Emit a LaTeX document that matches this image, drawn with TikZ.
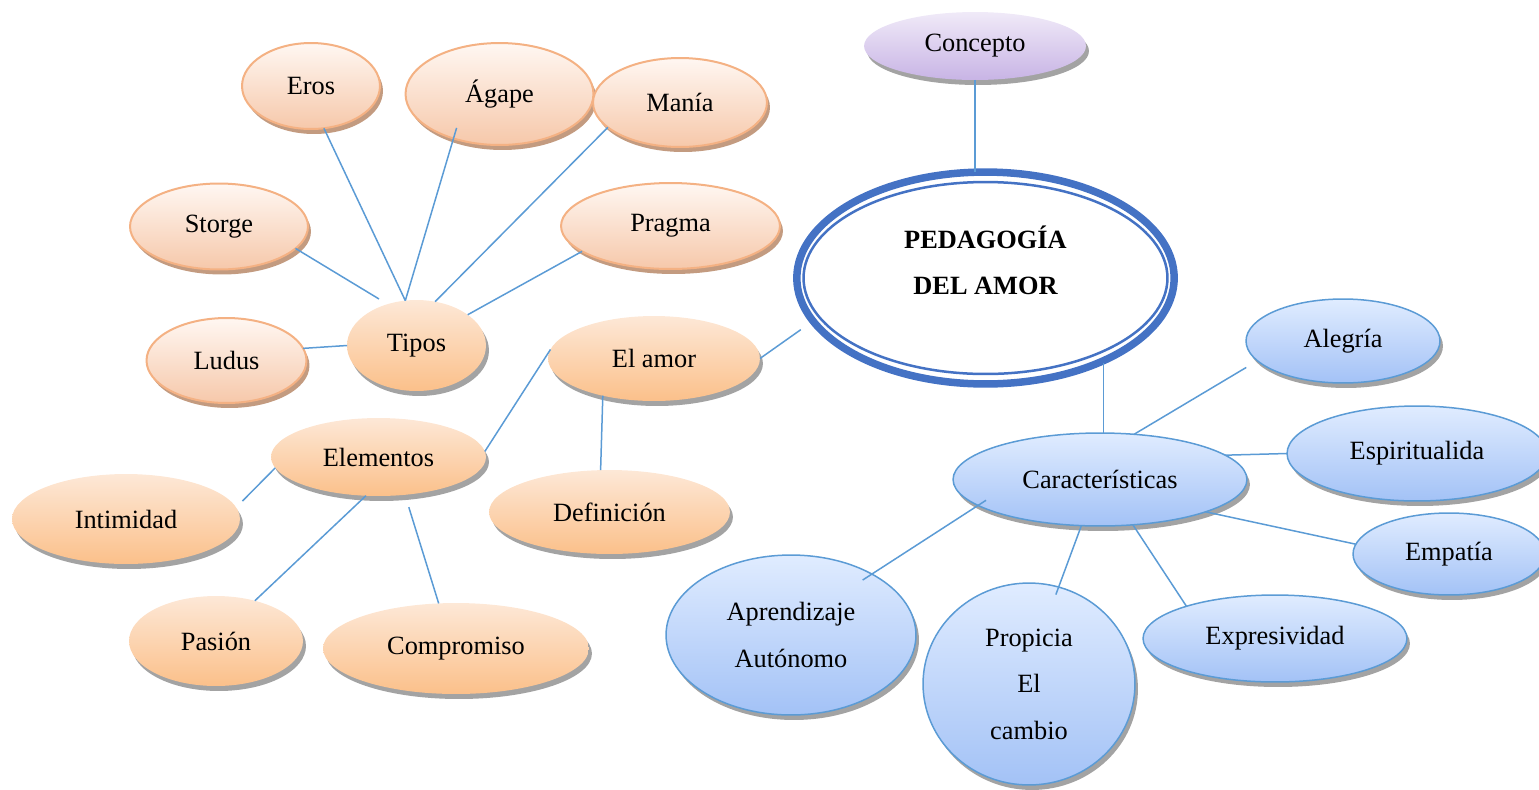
\documentclass[tikz,border=0pt]{standalone}
\usepackage{fontspec}
\setmainfont{Liberation Serif}
\usetikzlibrary{shapes.geometric,shadows}

% Colours of the map
\definecolor{linkblue}{HTML}{5B9BD5}
\definecolor{mainblue}{HTML}{4472C4}
\definecolor{peachline}{HTML}{F4B183}
\definecolor{peachtop}{HTML}{FFF7F2}
\definecolor{peachbot}{HTML}{F6C8AA}
\definecolor{peachshadow}{HTML}{C39B80}
\definecolor{aprtop}{HTML}{FDE8D7}
\definecolor{aprbot}{HTML}{FBC08A}
\definecolor{skytop}{HTML}{E0ECFF}
\definecolor{skybot}{HTML}{A3C2F6}
\definecolor{lilactop}{HTML}{F0EAF8}
\definecolor{lilacbot}{HTML}{C8B4E5}
\definecolor{shadowgrey}{HTML}{A3A3A3}

\tikzset{
  bubble/.style={ellipse, inner sep=0pt, outer sep=0pt, align=center,
    font=\fontsize{15}{26.5}\selectfont},
  sz/.style 2 args={minimum width=#1*0.04cm, minimum height=#2*0.04cm},
  peach/.style={bubble, draw=peachline, line width=0.04cm,
    top color=peachtop, bottom color=peachbot,
    drop shadow={fill=peachshadow, opacity=1, shadow xshift=0.06cm, shadow yshift=-0.1cm}},
  apricot/.style={bubble, top color=aprtop, bottom color=aprbot,
    drop shadow={fill=shadowgrey, opacity=1, shadow xshift=0.06cm, shadow yshift=-0.1cm}},
  sky/.style={bubble, draw=linkblue, line width=0.03cm,
    top color=skytop, bottom color=skybot,
    drop shadow={fill=shadowgrey, opacity=1, shadow xshift=0.06cm, shadow yshift=-0.1cm}},
  lilac/.style={bubble, top color=lilactop, bottom color=lilacbot,
    drop shadow={fill=shadowgrey, opacity=1, shadow xshift=0.06cm, shadow yshift=-0.1cm}},
  mainring/.style={bubble, draw=mainblue, line width=0.15cm, fill=white,
    font=\fontsize{15}{26.5}\selectfont\bfseries},
  link/.style={draw=linkblue, line width=0.03cm},
}

\begin{document}
\begin{tikzpicture}[x=0.02cm, y=-0.02cm]

    % Fix the page to the size of the reference
    \useasboundingbox (0,0) rectangle (1539,789);

    % The centre of the map and its title
    \node[mainring, sz={188.75}{106}, text depth=0.72cm] (main) at (985.5,278) {PEDAGOGÍA\\DEL AMOR};
    \draw[mainblue, line width=0.05cm] (main.center) ellipse [x radius=3.64cm, y radius=1.92cm];
    \node[lilac, sz={111}{34}] (concepto) at (975,46) {Concepto};

    % The kinds of love
    \node[peach, sz={69}{43}] (eros) at (311,86) {Eros};
    \node[peach, sz={94}{51}] (agape) at (499.5,94) {Ágape};
    \node[peach, sz={87}{44.5}] (mania) at (680,102.5) {Manía};
    \node[peach, sz={89}{43}] (storge) at (219,226.5) {Storge};
    \node[peach, sz={109.5}{43}] (pragma) at (670.5,226) {Pragma};
    \node[peach, sz={80}{42.5}] (ludus) at (226.5,360.5) {Ludus};

    % Love, its kinds and its elements
    \node[apricot, sz={69.5}{45.5}] (tipos) at (416.5,345.5) {Tipos};
    \node[apricot, sz={106}{42.5}] (amor) at (654,358.5) {El amor};
    \node[apricot, sz={107.5}{39}] (elementos) at (378.5,457) {Elementos};
    \node[apricot, sz={114}{45}] (intimidad) at (126,519) {Intimidad};
    \node[apricot, sz={120.5}{42}] (definicion) at (609.5,512) {Definición};
    \node[apricot, sz={87}{45}] (pasion) at (216,641) {Pasión};
    \node[apricot, sz={133}{45.5}] (compromiso) at (456,648.5) {Compromiso};

    % The features
    \node[sky, sz={147}{46.5}] (caract) at (1100,479.5) {Características};
    \node[sky, sz={97}{42}] (alegria) at (1343,341) {Alegría};
    \node[sky, sz={130}{47.5}] (espiritu) at (1417,453.5) {Espiritualida};
    \node[sky, sz={96}{41}] (empatia) at (1449,554) {Empatía};
    \node[sky, sz={132}{43.5}] (expresiv) at (1275,638.5) {Expresividad};
    \node[sky, sz={125}{80}] (aprend) at (791,635) {Aprendizaje\\Autónomo};
    \node[sky, sz={106}{101}] (propicia) at (1029,684) {Propicia\\El\\cambio};

    % Lines towards the types
    \draw[link] (eros.-73) -- (tipos.104);
    \draw[link, shorten <=-0.22cm] (agape.-136) -- (tipos.104);
    \draw[link] (mania.-161) -- (tipos.67);
    \draw[link, shorten >=0.2cm] (storge.-16) -- (tipos.125);
    \draw[link] (pragma.-164) -- (tipos.31);
    \draw[link] (ludus.9) -- (tipos.180);

    % Lines round love and its elements
    \draw[link] (concepto.south) -- (concepto.south |- main.north);
    \draw[link, shorten >=0.3cm] (amor.0) -- (main.-166);
    \draw[link] (elementos.3) -- (amor.175);
    \draw[link] (amor.-144) -- (definicion.102);
    \draw[link, shorten <=0.18cm] (intimidad.6) -- (elementos.-174);
    \draw[link] (elementos.-108) -- (pasion.46);
    \draw[link, shorten <=0.26cm] (elementos.-55) -- (compromiso.111);

    % Lines towards the features
    \draw[link] (caract.86 |- main.-37) -- (caract.86);
    \draw[link, shorten <=0.26cm] (alegria.-167) -- (caract.53);
    \draw[link] (caract.11) -- (espiritu.180);
    \draw[link] (caract.-17) -- (empatia.174);
    \draw[link] (caract.-54) -- (expresiv.160);
    \draw[link, shorten >=-0.16cm] (caract.-112) -- (propicia.73);
    \draw[link, shorten <=-0.19cm, shorten >=-0.22cm] (caract.-168) -- (aprend.37);

\end{tikzpicture}
\end{document}
